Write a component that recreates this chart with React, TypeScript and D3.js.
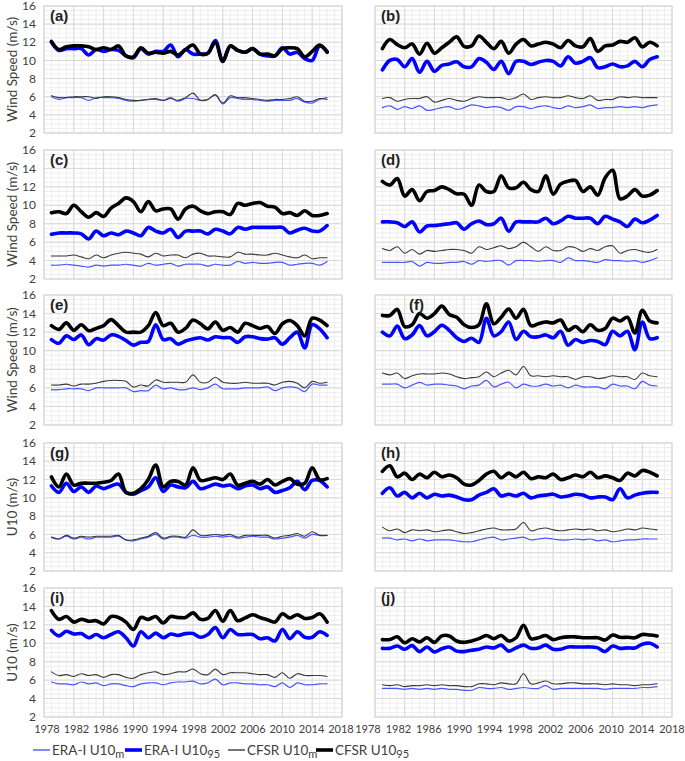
import React from "react";
import * as d3 from "d3";

const years = [1979, 1980, 1981, 1982, 1983, 1984, 1985, 1986, 1987, 1988, 1989, 1990, 1991, 1992, 1993, 1994, 1995, 1996, 1997, 1998, 1999, 2000, 2001, 2002, 2003, 2004, 2005, 2006, 2007, 2008, 2009, 2010, 2011, 2012, 2013, 2014, 2015, 2016];
const xTickLabels = [1978, 1982, 1986, 1990, 1994, 1998, 2002, 2006, 2010, 2014, 2018];
const yTickLabels = [2, 4, 6, 8, 10, 12, 14, 16];

// (a)
const aEraM = [6.0, 5.7, 5.9, 5.9, 5.9, 5.6, 5.9, 5.9, 5.9, 5.8, 5.6, 5.5, 5.6, 5.7, 5.7, 5.6, 5.9, 5.5, 5.8, 5.8, 5.6, 5.7, 6.2, 5.2, 5.9, 5.8, 5.7, 5.7, 5.6, 5.5, 5.6, 5.6, 5.6, 5.8, 5.4, 5.3, 5.7, 5.9];
const aEra95 = [12.0, 11.1, 11.3, 11.3, 11.3, 10.6, 11.2, 11.0, 11.2, 11.1, 10.5, 10.3, 11.3, 10.7, 11.0, 11.0, 11.7, 10.4, 11.2, 10.7, 10.7, 10.8, 12.2, 9.9, 11.6, 11.1, 10.9, 11.3, 10.7, 10.5, 10.5, 11.4, 10.7, 10.9, 10.2, 10.0, 11.6, 11.0];
const aCfsrM = [6.1, 5.9, 5.9, 6.0, 6.0, 6.0, 5.8, 6.0, 6.0, 5.9, 5.7, 5.6, 5.6, 5.7, 5.8, 5.6, 5.8, 5.6, 5.9, 6.4, 5.6, 5.7, 6.2, 5.3, 6.1, 5.9, 5.9, 5.8, 5.7, 5.6, 5.7, 5.7, 5.8, 6.0, 5.5, 5.5, 5.8, 5.7];
const aCfsr95 = [12.1, 11.2, 11.5, 11.6, 11.6, 11.5, 11.2, 11.4, 11.2, 11.6, 10.5, 10.4, 11.4, 10.8, 10.9, 10.8, 11.0, 10.6, 11.2, 11.7, 10.7, 10.8, 12.0, 9.9, 11.6, 11.1, 10.9, 11.3, 10.7, 10.7, 10.5, 11.3, 11.4, 11.3, 10.4, 11.0, 11.7, 10.9];
// (b)
const bEraM = [4.8, 5.0, 4.6, 4.9, 4.7, 5.0, 4.5, 4.6, 4.8, 4.9, 4.6, 4.8, 5.1, 5.0, 4.8, 4.9, 4.8, 4.5, 4.9, 4.9, 4.7, 4.9, 5.0, 4.8, 4.7, 5.0, 4.8, 4.9, 5.1, 4.7, 4.8, 4.8, 4.9, 4.8, 4.9, 4.8, 5.0, 5.1];
const bEra95 = [8.95, 10.0, 10.1, 9.3, 10.2, 8.7, 9.9, 8.8, 9.45, 9.6, 9.85, 9.3, 9.3, 10.2, 9.8, 9.0, 9.9, 8.55, 9.9, 9.9, 9.55, 9.8, 10.0, 9.9, 9.4, 10.4, 9.7, 9.9, 10.3, 9.2, 9.3, 9.6, 9.3, 9.4, 9.9, 9.3, 10.1, 10.4];
const bCfsrM = [5.8, 5.9, 5.5, 5.7, 5.8, 5.8, 6.0, 5.4, 5.6, 5.8, 5.6, 5.5, 5.8, 6.0, 5.9, 5.9, 5.9, 5.7, 5.9, 6.3, 5.7, 5.9, 6.0, 5.9, 5.9, 6.1, 5.9, 5.8, 6.1, 5.6, 5.7, 5.7, 6.0, 5.9, 6.0, 5.9, 5.9, 5.9];
const bCfsr95 = [11.3, 12.3, 11.75, 11.4, 11.8, 10.7, 11.9, 10.8, 11.4, 12.0, 12.6, 11.55, 11.6, 12.7, 12.0, 11.3, 12.1, 10.8, 11.8, 12.3, 11.6, 11.8, 12.0, 11.8, 11.4, 12.2, 11.6, 11.5, 12.4, 11.0, 11.6, 11.7, 12.1, 12.0, 12.5, 11.5, 12.0, 11.6];
// (c)
const cEraM = [3.5, 3.5, 3.6, 3.5, 3.4, 3.3, 3.5, 3.4, 3.5, 3.5, 3.6, 3.5, 3.4, 3.7, 3.5, 3.6, 3.7, 3.4, 3.6, 3.6, 3.6, 3.4, 3.6, 3.5, 3.5, 3.9, 3.7, 3.8, 3.7, 3.7, 3.8, 3.8, 3.5, 3.6, 3.7, 3.7, 3.5, 3.9];
const cEra95 = [6.85, 7.0, 7.0, 7.0, 6.9, 6.35, 7.2, 6.7, 7.0, 6.8, 7.2, 7.0, 6.7, 7.6, 7.2, 7.0, 7.4, 6.5, 7.2, 7.2, 7.2, 6.9, 7.4, 7.2, 6.9, 7.6, 7.4, 7.6, 7.6, 7.6, 7.6, 7.6, 7.0, 7.3, 7.5, 7.2, 7.2, 7.8];
const cCfsrM = [4.5, 4.5, 4.5, 4.6, 4.4, 4.2, 4.6, 4.3, 4.6, 4.8, 4.9, 4.8, 4.7, 4.4, 4.8, 4.5, 4.6, 4.6, 4.3, 4.7, 4.8, 4.5, 4.5, 4.4, 4.4, 4.9, 4.7, 4.7, 4.6, 4.6, 4.8, 4.6, 4.4, 4.3, 4.6, 4.2, 4.3, 4.3];
const cCfsr95 = [9.2, 9.3, 9.1, 10.0, 9.3, 8.7, 9.2, 8.8, 9.7, 10.2, 10.8, 10.4, 9.3, 10.4, 9.4, 9.6, 9.6, 8.5, 9.6, 9.9, 9.4, 9.1, 9.3, 9.3, 9.0, 10.2, 10.0, 10.2, 10.3, 9.9, 9.8, 9.1, 9.2, 8.9, 9.4, 8.9, 8.9, 9.1];
// (d)
const dEraM = [3.8, 3.8, 3.8, 3.8, 3.9, 3.4, 3.8, 3.7, 3.7, 3.8, 3.8, 3.9, 3.6, 4.0, 3.9, 4.0, 4.0, 3.5, 4.0, 4.0, 4.0, 3.9, 4.0, 4.0, 3.8, 4.3, 4.0, 4.0, 3.9, 3.8, 4.1, 4.0, 4.0, 3.9, 4.0, 3.8, 4.0, 4.3];
const dEra95 = [8.2, 8.2, 8.1, 7.7, 8.2, 7.1, 7.75, 7.8, 7.9, 8.0, 8.1, 7.4, 8.0, 8.3, 7.9, 8.0, 8.6, 7.2, 8.2, 8.2, 8.2, 8.2, 8.6, 8.0, 8.3, 8.8, 8.6, 8.6, 8.6, 8.0, 8.8, 8.5, 8.2, 7.7, 8.5, 8.1, 8.4, 8.9];
const dCfsrM = [5.3, 5.1, 5.5, 4.8, 5.2, 4.7, 5.1, 5.0, 5.1, 5.2, 5.2, 5.1, 4.8, 5.5, 5.2, 5.4, 5.6, 5.3, 5.5, 6.0, 5.5, 5.0, 5.5, 5.1, 5.1, 5.5, 5.4, 5.0, 5.3, 5.1, 5.5, 5.6, 4.8, 5.1, 5.2, 5.0, 4.9, 5.2];
const dCfsr95 = [12.6, 12.2, 12.9, 11.0, 11.7, 10.5, 11.5, 11.6, 12.0, 11.7, 11.25, 11.2, 10.0, 12.2, 11.5, 11.5, 13.2, 11.9, 11.9, 12.5, 11.7, 11.5, 13.2, 11.2, 12.3, 12.6, 12.7, 11.5, 12.0, 11.1, 13.0, 13.8, 10.7, 11.0, 11.7, 11.0, 11.1, 11.6];
// (e)
const eEraM = [5.8, 5.8, 5.9, 5.9, 5.9, 5.7, 6.0, 6.0, 6.0, 6.0, 6.0, 5.6, 5.7, 5.7, 6.3, 5.9, 6.0, 5.8, 5.8, 6.0, 5.8, 6.0, 6.4, 5.9, 5.9, 5.9, 6.0, 6.0, 6.0, 6.1, 5.7, 6.0, 6.1, 6.0, 5.6, 6.4, 6.3, 6.3];
const eEra95 = [11.2, 10.8, 11.6, 11.2, 11.7, 10.65, 11.3, 11.15, 11.7, 11.55, 11.1, 10.6, 10.9, 11.0, 12.8, 11.2, 11.3, 10.7, 11.05, 11.25, 11.4, 11.15, 11.5, 11.4, 11.4, 10.9, 11.5, 11.5, 11.3, 11.25, 11.4, 10.7, 11.4, 12.0, 10.3, 12.8, 12.35, 11.4];
const eCfsrM = [6.3, 6.3, 6.4, 6.2, 6.4, 6.4, 6.5, 6.7, 6.8, 6.8, 6.7, 6.1, 6.3, 6.2, 6.85, 6.6, 6.6, 6.6, 6.6, 7.4, 6.6, 6.6, 7.15, 6.6, 6.5, 6.5, 6.6, 6.5, 6.5, 6.5, 6.3, 6.6, 6.7, 6.5, 6.0, 6.7, 6.5, 6.6];
const eCfsr95 = [12.7, 12.3, 13.0, 12.2, 12.8, 12.15, 12.4, 12.7, 13.35, 12.7, 12.0, 12.0, 12.0, 12.7, 14.1, 12.7, 12.95, 12.0, 12.4, 13.3, 12.9, 12.35, 13.1, 12.2, 12.5, 12.0, 12.95, 12.7, 12.4, 12.6, 11.85, 12.9, 13.25, 12.7, 11.6, 13.5, 13.3, 12.7];
// (f)
const fEraM = [6.4, 6.4, 6.4, 6.0, 6.3, 6.6, 6.3, 6.4, 6.4, 6.3, 6.2, 5.9, 6.2, 6.3, 6.8, 6.1, 6.4, 6.6, 6.0, 6.4, 6.2, 6.2, 6.4, 6.2, 6.3, 6.0, 6.3, 6.1, 6.1, 6.1, 5.9, 6.4, 6.2, 6.2, 5.9, 6.7, 6.3, 6.2];
const fEra95 = [12.0, 11.6, 12.65, 11.3, 11.7, 12.7, 11.6, 12.05, 12.75, 12.2, 11.4, 11.0, 11.35, 10.9, 13.5, 11.6, 12.05, 13.1, 11.2, 12.1, 11.5, 11.5, 11.7, 11.4, 12.1, 10.6, 11.2, 10.9, 11.1, 11.0, 10.65, 12.1, 11.6, 12.1, 10.1, 13.1, 11.3, 11.4];
const fCfsrM = [7.6, 7.4, 7.6, 7.0, 7.3, 7.5, 7.5, 7.5, 7.6, 7.5, 7.2, 7.0, 7.1, 7.2, 7.7, 7.2, 7.6, 7.9, 7.4, 8.3, 7.3, 7.3, 7.2, 7.3, 7.2, 7.2, 6.9, 7.2, 7.2, 7.0, 7.1, 7.3, 7.2, 7.2, 6.9, 7.6, 7.3, 7.2];
const fCfsr95 = [13.8, 13.8, 14.45, 12.6, 12.8, 14.0, 13.5, 14.0, 14.8, 13.9, 13.6, 12.8, 12.5, 12.8, 15.05, 12.9, 13.6, 14.5, 13.5, 14.45, 12.7, 12.9, 13.1, 13.0, 13.3, 12.2, 12.6, 12.05, 12.8, 12.2, 12.4, 13.5, 13.2, 13.6, 11.9, 14.35, 13.2, 13.0];
// (g)
const gEraM = [5.7, 5.5, 5.8, 5.5, 5.7, 5.5, 5.7, 5.7, 5.7, 5.8, 5.4, 5.3, 5.5, 5.7, 6.0, 5.5, 5.7, 5.7, 5.6, 5.9, 5.7, 5.7, 5.8, 5.7, 5.8, 5.6, 5.7, 5.8, 5.7, 5.7, 5.5, 5.6, 5.7, 5.9, 5.6, 6.0, 5.9, 5.9];
const gEra95 = [11.3, 10.6, 11.6, 10.7, 11.2, 10.6, 11.3, 11.0, 11.3, 11.5, 10.6, 10.4, 10.8, 11.2, 12.2, 10.7, 11.4, 11.2, 11.1, 11.8, 11.0, 11.2, 11.5, 11.3, 11.4, 11.0, 11.3, 11.4, 11.0, 11.2, 10.6, 10.8, 11.1, 11.8, 10.9, 11.9, 11.9, 11.2];
const gCfsrM = [5.7, 5.5, 5.9, 5.6, 5.8, 5.7, 5.8, 5.8, 5.8, 5.9, 5.4, 5.4, 5.6, 5.8, 6.2, 5.6, 5.8, 5.8, 5.7, 6.5, 5.9, 5.9, 6.0, 5.9, 6.0, 5.7, 5.9, 5.9, 5.9, 5.9, 5.6, 5.8, 5.9, 6.1, 5.8, 6.3, 5.9, 5.9];
const gCfsr95 = [12.3, 11.2, 12.6, 11.4, 11.6, 11.6, 11.6, 11.7, 11.9, 12.6, 10.6, 10.5, 11.0, 12.0, 13.6, 11.2, 11.8, 11.8, 11.4, 13.3, 11.9, 12.0, 12.2, 12.0, 12.6, 11.4, 11.6, 11.8, 11.5, 12.0, 11.4, 11.8, 12.1, 11.5, 11.6, 13.3, 12.0, 12.1];
// (h)
const hEraM = [5.6, 5.6, 5.4, 5.5, 5.3, 5.5, 5.3, 5.4, 5.4, 5.4, 5.3, 5.2, 5.2, 5.4, 5.6, 5.7, 5.4, 5.5, 5.6, 5.7, 5.4, 5.5, 5.6, 5.5, 5.4, 5.4, 5.5, 5.4, 5.5, 5.3, 5.4, 5.2, 5.3, 5.4, 5.4, 5.5, 5.5, 5.5];
const hEra95 = [10.5, 11.1, 10.2, 10.6, 10.0, 10.5, 10.0, 10.4, 10.2, 10.3, 10.1, 9.8, 9.8, 10.3, 10.6, 11.0, 10.2, 10.4, 10.2, 10.5, 10.0, 10.2, 10.3, 10.4, 10.1, 10.2, 10.4, 10.3, 10.0, 10.1, 10.1, 9.8, 11.0, 10.0, 10.3, 10.5, 10.6, 10.6];
const hCfsrM = [6.8, 6.4, 6.6, 6.2, 6.5, 6.4, 6.5, 6.3, 6.4, 6.5, 6.3, 6.1, 6.2, 6.4, 6.6, 6.7, 6.5, 6.5, 6.6, 7.3, 6.4, 6.6, 6.7, 6.5, 6.4, 6.5, 6.6, 6.5, 6.6, 6.4, 6.5, 6.3, 6.4, 6.6, 6.5, 6.7, 6.6, 6.5];
const hCfsr95 = [12.9, 13.5, 12.3, 12.7, 12.0, 12.6, 12.2, 12.8, 12.3, 12.5, 12.2, 11.5, 11.4, 11.9, 12.6, 12.9, 12.2, 12.7, 12.3, 12.8, 12.1, 12.3, 12.2, 12.6, 12.0, 12.2, 12.5, 12.3, 12.8, 12.2, 12.4, 12.2, 11.9, 12.7, 12.4, 13.0, 12.8, 12.4];
// (i)
const iEraM = [5.8, 5.6, 5.6, 5.5, 5.8, 5.6, 5.7, 5.4, 5.6, 5.6, 5.4, 5.3, 5.6, 5.7, 5.7, 5.5, 5.7, 5.8, 5.8, 5.9, 5.6, 5.7, 6.1, 5.5, 5.7, 5.7, 5.6, 5.6, 5.5, 5.5, 5.3, 5.7, 5.2, 5.7, 5.5, 5.5, 5.6, 5.6];
const iEra95 = [11.4, 10.8, 11.3, 11.0, 11.05, 10.6, 10.95, 10.6, 10.95, 11.25, 10.6, 9.7, 11.25, 10.6, 11.1, 10.6, 11.0, 10.85, 11.05, 11.05, 10.65, 10.95, 11.7, 10.6, 11.5, 10.95, 10.95, 10.95, 10.5, 10.6, 10.25, 11.5, 10.5, 11.25, 10.65, 10.65, 11.25, 10.85];
const iCfsrM = [6.9, 6.5, 6.6, 6.4, 6.7, 6.5, 6.6, 6.3, 6.6, 6.6, 6.3, 6.2, 6.6, 6.8, 6.9, 6.6, 6.7, 6.9, 6.9, 7.2, 6.7, 6.6, 7.2, 6.6, 6.8, 6.8, 6.8, 6.7, 6.6, 6.6, 6.3, 6.8, 6.2, 6.7, 6.5, 6.5, 6.5, 6.4];
const iCfsr95 = [13.55, 12.6, 12.9, 12.3, 12.6, 12.4, 12.45, 12.1, 12.9, 12.8, 12.3, 11.5, 12.8, 12.6, 12.9, 12.2, 12.9, 12.8, 12.8, 13.3, 12.6, 12.7, 13.55, 12.4, 13.55, 12.45, 12.75, 13.1, 12.8, 12.55, 12.3, 13.2, 12.75, 13.1, 12.7, 12.8, 13.2, 12.3];
// (j)
const jEraM = [5.1, 5.1, 5.1, 5.0, 5.1, 5.0, 5.1, 5.0, 5.1, 5.0, 5.0, 4.9, 4.9, 5.2, 5.1, 5.1, 5.2, 5.0, 5.1, 5.2, 5.1, 5.1, 5.4, 5.0, 5.1, 5.1, 5.1, 5.1, 5.1, 5.1, 5.0, 5.1, 5.1, 5.1, 5.1, 5.2, 5.2, 5.3];
const jEra95 = [9.45, 9.45, 9.7, 9.35, 9.75, 9.1, 9.6, 9.05, 9.4, 9.6, 9.15, 9.1, 9.25, 9.35, 9.6, 9.5, 9.8, 9.15, 9.5, 9.8, 9.45, 9.5, 9.8, 9.35, 9.35, 9.6, 9.6, 9.6, 9.6, 9.5, 9.1, 9.7, 9.45, 9.5, 9.5, 9.9, 10.0, 9.6];
const jCfsrM = [5.5, 5.4, 5.5, 5.3, 5.4, 5.4, 5.5, 5.4, 5.5, 5.4, 5.4, 5.3, 5.3, 5.6, 5.6, 5.5, 5.7, 5.6, 5.6, 6.7, 5.6, 5.7, 5.9, 5.6, 5.6, 5.7, 5.7, 5.6, 5.6, 5.6, 5.5, 5.6, 5.5, 5.5, 5.4, 5.5, 5.5, 5.6];
const jCfsr95 = [10.4, 10.4, 10.7, 10.05, 10.5, 10.15, 10.6, 10.1, 10.8, 10.8, 10.25, 10.1, 10.25, 10.5, 10.85, 10.5, 10.85, 10.25, 10.6, 11.95, 10.5, 10.6, 10.85, 10.4, 10.6, 10.7, 10.7, 10.6, 10.6, 10.6, 10.35, 10.9, 10.65, 10.65, 10.6, 10.95, 10.9, 10.8];

const panelLabels = ["(a)", "(b)", "(c)", "(d)", "(e)", "(f)", "(g)", "(h)", "(i)", "(j)"];
const rowTitles = ["Wind Speed (m/s)", "Wind Speed (m/s)", "Wind Speed (m/s)", "U10 (m/s)", "U10 (m/s)"];
const panelData = [
  [aEraM, aEra95, aCfsrM, aCfsr95],
  [bEraM, bEra95, bCfsrM, bCfsr95],
  [cEraM, cEra95, cCfsrM, cCfsr95],
  [dEraM, dEra95, dCfsrM, dCfsr95],
  [eEraM, eEra95, eCfsrM, eCfsr95],
  [fEraM, fEra95, fCfsrM, fCfsr95],
  [gEraM, gEra95, gCfsrM, gCfsr95],
  [hEraM, hEra95, hCfsrM, hCfsr95],
  [iEraM, iEra95, iCfsrM, iCfsr95],
  [jEraM, jEra95, jCfsrM, jCfsr95],
];
const seriesNames = ["ERA-I U10", "ERA-I U10", "CFSR U10", "CFSR U10"];
const seriesSubs = ["m", "95", "m", "95"];
const seriesColors = ["#4a55ff", "#0000ff", "#3a3a3a", "#000000"];
const seriesWidths = [1.2, 3.6, 1.1, 3.6];

// layout
const colX = [[44, 342], [375, 672]];
const rowY = [[6, 133], [150, 279], [295, 425], [443, 571], [588, 717]];
const labelOffset = [[3, -1], [-7, 0]];
const legendX = [33, 125, 228, 316];
const FONT = "Lato, 'Open Sans', sans-serif";

function Panel({ idx }: { idx: number }) {
  const col = idx % 2;
  const row = Math.floor(idx / 2);
  const [x0, x1] = colX[col];
  const [y0, y1] = rowY[row];
  const x = d3.scaleLinear().domain([1978, 2018]).range([x0, x1]);
  const y = d3.scaleLinear().domain([2, 16]).range([y1, y0]);
  const minorX = d3.range(1978, 2019, 1);
  const majorX = d3.range(1978, 2019, 4);
  const minorY = d3.range(2, 16.01, 0.5);
  const majorY = d3.range(2, 16.01, 2);
  const line = d3
    .line<number>()
    .x((_, i) => x(years[i]))
    .y((d) => y(d))
    .curve(d3.curveCatmullRom.alpha(0.5));
  const data = panelData[idx];
  const lx = d3.scaleLinear().domain([1978, 2018]).range([x0 + labelOffset[col][0], x1 + labelOffset[col][1]]);
  return (
    <g>
      {minorX.map((v) => (
        <line key={"mx" + v} x1={x(v)} x2={x(v)} y1={y0} y2={y1} stroke="#eeeeee" strokeWidth={1} />
      ))}
      {minorY.map((v) => (
        <line key={"my" + v} x1={x0} x2={x1} y1={y(v)} y2={y(v)} stroke="#eeeeee" strokeWidth={1} />
      ))}
      {majorX.map((v) => (
        <line key={"Mx" + v} x1={x(v)} x2={x(v)} y1={y0} y2={y1} stroke="#d9d9d9" strokeWidth={1} />
      ))}
      {majorY.map((v) => (
        <line key={"My" + v} x1={x0} x2={x1} y1={y(v)} y2={y(v)} stroke="#d9d9d9" strokeWidth={1} />
      ))}
      <rect x={x0} y={y0} width={x1 - x0} height={y1 - y0} fill="none" stroke="#d9d9d9" strokeWidth={1} />
      {data.map((s, k) => (
        <path key={k} d={line(s) || ""} fill="none" stroke={seriesColors[k]} strokeWidth={seriesWidths[k]} strokeLinejoin="round" strokeLinecap="round" />
      ))}
      <text x={idx === 5 ? x0 + 34 : x0 + 6} y={y0 + 15} fontFamily="'Liberation Sans', Arial, sans-serif" fontWeight="bold" fontSize={15} fill="#222">
        {panelLabels[idx]}
      </text>
      {col === 0 &&
        yTickLabels.map((v) => (
          <text key={"yt" + v} x={x0 - 8} y={y(v)} dy="0.35em" textAnchor="end" fontFamily={FONT} fontSize={12} fill="#404040">
            {v}
          </text>
        ))}
      {col === 0 && (
        <text
          transform={`translate(${12},${(y0 + y1) / 2}) rotate(-90)`}
          textAnchor="middle"
          dy="0.35em"
          fontFamily={FONT}
          fontSize={13.5}
          fill="#404040"
        >
          {rowTitles[row]}
        </text>
      )}
      {row === 4 &&
        xTickLabels.map((v) => (
          <text key={"xt" + v} x={lx(v)} y={y1 + 16} textAnchor="middle" fontFamily={FONT} fontSize={11} fill="#404040">
            {v}
          </text>
        ))}
    </g>
  );
}

export default function App() {
  const legendY = 750;
  return (
    <svg width={685} height={761} style={{ position: "absolute", left: 0, top: 0, display: "block", background: "#fff" }}>
      {panelLabels.map((_, i) => (
        <Panel key={i} idx={i} />
      ))}
      {seriesNames.map((name, k) => (
        <g key={"lg" + k}>
          <line x1={legendX[k]} x2={legendX[k] + 17} y1={legendY} y2={legendY} stroke={seriesColors[k]} strokeWidth={seriesWidths[k] < 2 ? 1.4 : 3.6} />
          <text x={legendX[k] + 19} y={legendY + 5} fontFamily={FONT} fontSize={13.5} fill="#404040">
            {name}
            <tspan fontSize={11} dy={3}>
              {seriesSubs[k]}
            </tspan>
          </text>
        </g>
      ))}
    </svg>
  );
}
